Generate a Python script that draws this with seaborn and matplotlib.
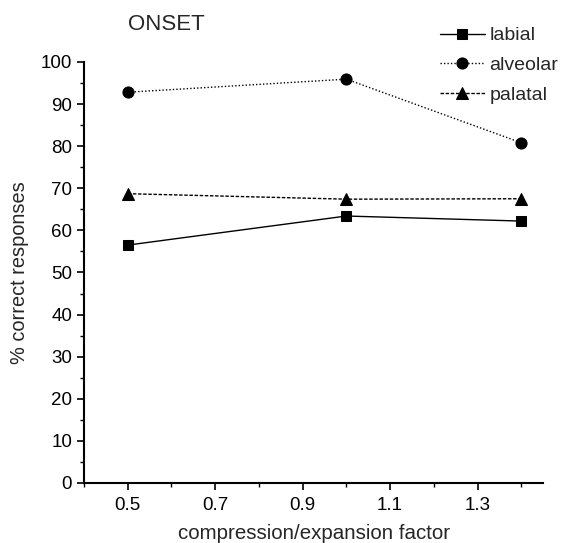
import matplotlib
matplotlib.use("Agg")
import matplotlib.pyplot as plt
from matplotlib.ticker import MultipleLocator
import seaborn as sns
import pandas as pd

factor = [0.5, 1.0, 1.4]
labial = [56.5, 63.4, 62.2]
alveolar = [92.8, 95.9, 80.8]
palatal = [68.7, 67.4, 67.5]

series = ["labial", "alveolar", "palatal"]
values = {"labial": labial, "alveolar": alveolar, "palatal": palatal}

df = pd.DataFrame(
    [(f, name, v) for name in series for f, v in zip(factor, values[name])],
    columns=["factor", "consonant", "pct"],
)

sns.set_style("ticks")
plt.rcParams["font.family"] = ["Liberation Sans", "DejaVu Sans"]

fig = plt.figure(figsize=(5.64, 5.43), dpi=100)
ax = fig.add_axes([0.149, 0.1105, 0.814, 0.7755])

styles = {
    "labial": dict(marker="s", linestyle="-", markersize=7),
    "alveolar": dict(marker="o", linestyle=(0, (1, 1.5)), markersize=8),
    "palatal": dict(marker="^", linestyle=(0, (2.5, 1.2)), markersize=8.5),
}
for name in series:
    sns.lineplot(
        data=df[df["consonant"] == name], x="factor", y="pct", ax=ax,
        color="black", linewidth=1.0, label=name,
        markeredgecolor="black", markerfacecolor="black",
        **styles[name],
    )

ax.set_xlim(0.4, 1.45)
ax.set_ylim(0, 100)
ax.xaxis.set_minor_locator(MultipleLocator(0.1))
ax.set_xticks([0.5, 0.7, 0.9, 1.1, 1.3])
ax.set_xticklabels(["0.5", "0.7", "0.9", "1.1", "1.3"])
ax.yaxis.set_major_locator(MultipleLocator(10))
ax.yaxis.set_minor_locator(MultipleLocator(5))
ax.tick_params(axis="both", which="major", length=5, width=1.2, labelsize=13.5,
               color="black", labelcolor="black", direction="out")
ax.tick_params(axis="x", which="major", pad=5)
ax.tick_params(axis="both", which="minor", length=3, width=1.0, direction="out",
               color="black")
for side in ("top", "right"):
    ax.spines[side].set_visible(False)
for side in ("left", "bottom"):
    ax.spines[side].set_linewidth(1.5)
    ax.spines[side].set_color("black")

ax.set_xlabel("compression/expansion factor", fontsize=14.8)
ax.xaxis.set_label_coords(0.5, -0.097)
ax.set_ylabel("% correct responses", fontsize=14.4)
ax.yaxis.set_label_coords(-0.12, 0.5)
ax.text(0.096, 1.076, "ONSET", transform=ax.transAxes, fontsize=16,
        va="baseline", ha="left")

leg = ax.legend(loc="upper left", bbox_to_anchor=(0.758, 1.102), frameon=False,
                fontsize=14, handlelength=2.3, handletextpad=0.25,
                labelspacing=0.62, borderaxespad=0)

fig.savefig("out.png", dpi=100, facecolor="white")
